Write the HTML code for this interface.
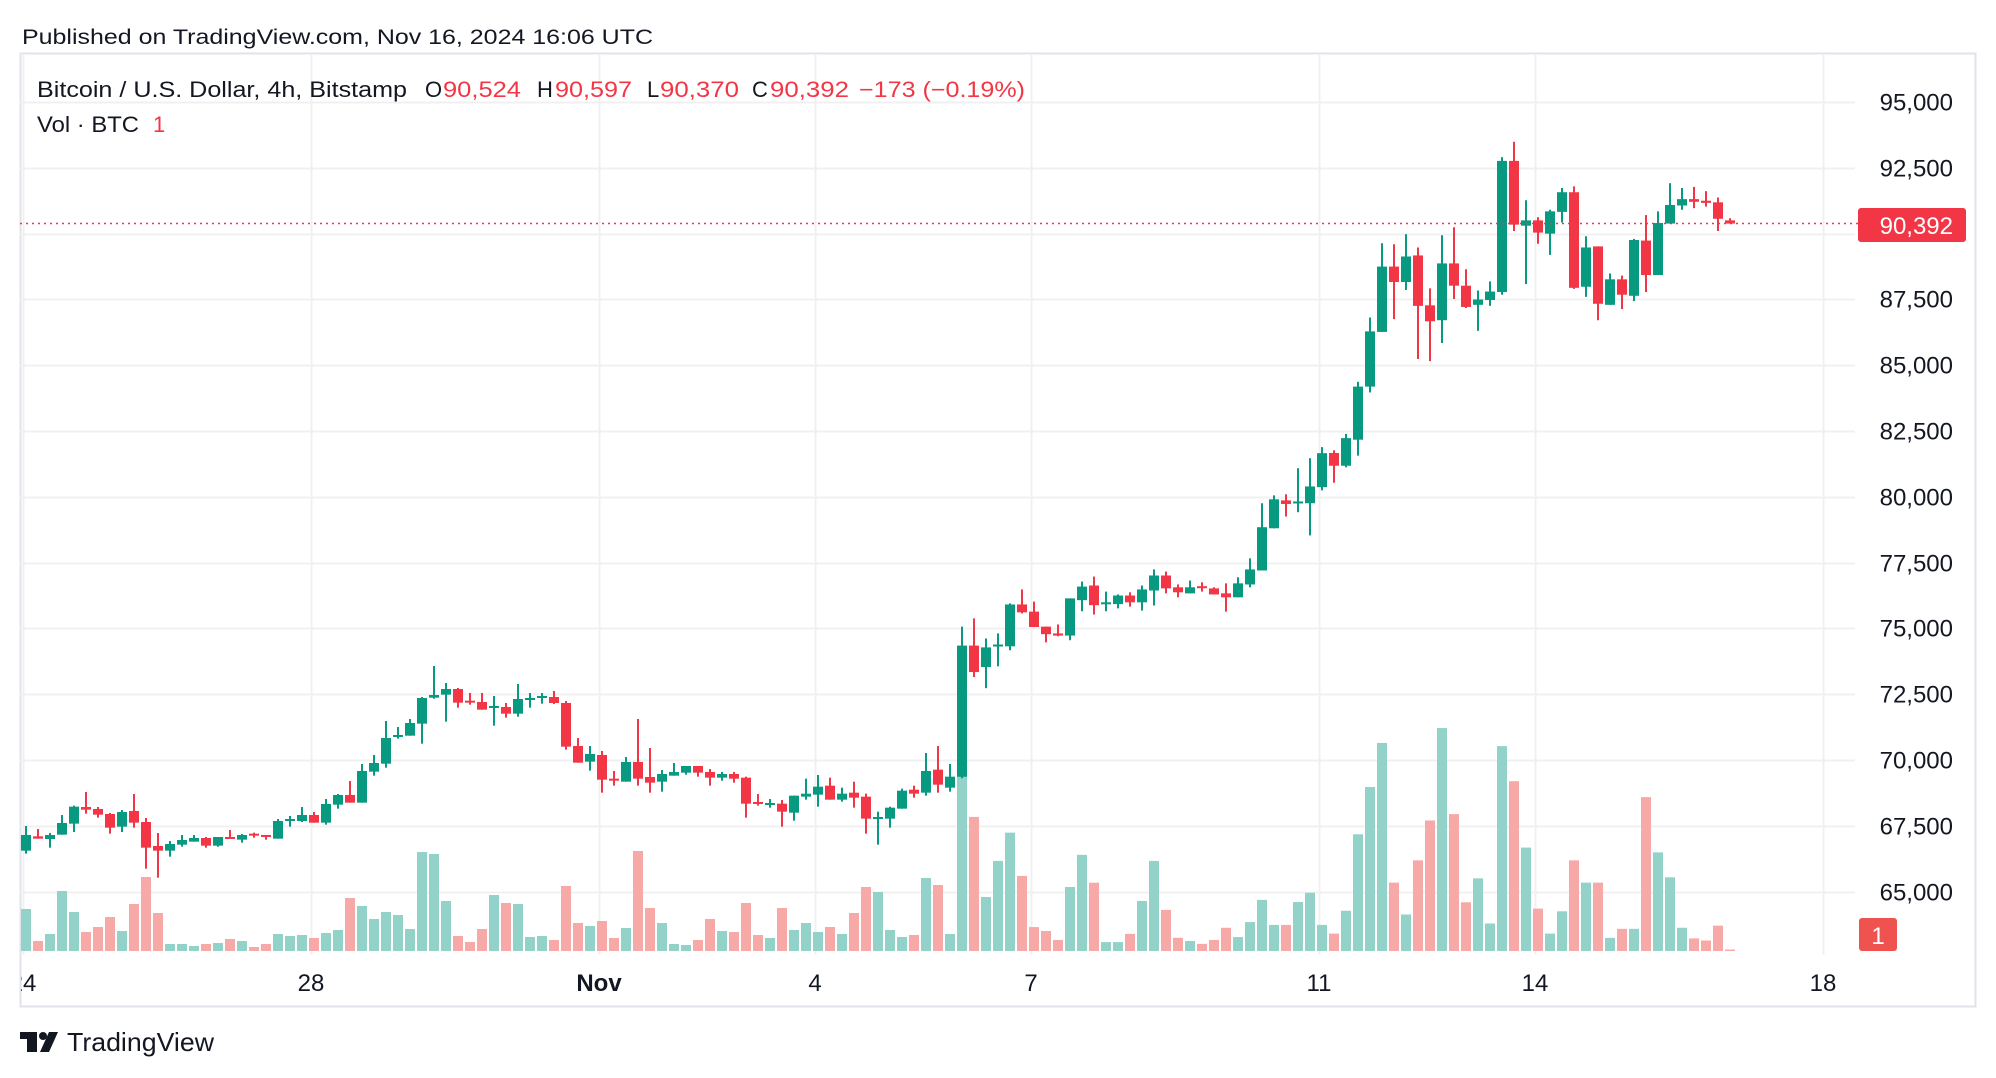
<!DOCTYPE html>
<html><head><meta charset="utf-8">
<style>
html,body{margin:0;padding:0;background:#fff;}
svg{display:block;}
text{font-family:"Liberation Sans",sans-serif;}
</style></head>
<body>
<svg id="s" width="1996" height="1078" viewBox="0 0 1996 1078" xmlns="http://www.w3.org/2000/svg">
<defs><clipPath id="cp"><rect x="21" y="0" width="1960" height="1078"/></clipPath></defs>
<rect x="0" y="0" width="1996" height="1078" fill="#fff"/>
<text x="22" y="44" font-size="21" fill="#131722" textLength="631" lengthAdjust="spacingAndGlyphs">Published on TradingView.com, Nov 16, 2024 16:06 UTC</text>
<rect x="20.5" y="53.5" width="1955" height="953" fill="none" stroke="#e0e3eb" stroke-width="2"/>
<g id="grid"></g>
<g id="vol"></g>
<g id="candles"></g>
<line x1="20" y1="223.5" x2="1858" y2="223.5" stroke="#f23645" stroke-width="1.5" stroke-dasharray="2,4"/>
<g id="axis" font-size="24" fill="#131722" clip-path="url(#cp)"></g>
<rect x="1858" y="208" width="108" height="34" rx="3" fill="#f23645"/>
<text x="1953" y="234" font-size="24" fill="#fff" text-anchor="end">90,392</text>
<rect x="1859" y="918" width="38" height="33" rx="3" fill="#ef5350"/>
<text x="1878" y="944" font-size="24" fill="#fff" text-anchor="middle">1</text>
<g font-size="22">
<text x="37" y="97" fill="#131722" textLength="370" lengthAdjust="spacingAndGlyphs">Bitcoin / U.S. Dollar, 4h, Bitstamp</text>
<text x="425" y="97" fill="#131722">O</text>
<text x="443" y="97" fill="#f23645" textLength="78" lengthAdjust="spacingAndGlyphs">90,524</text>
<text x="537" y="97" fill="#131722">H</text>
<text x="555" y="97" fill="#f23645" textLength="77" lengthAdjust="spacingAndGlyphs">90,597</text>
<text x="647" y="97" fill="#131722">L</text>
<text x="660" y="97" fill="#f23645" textLength="79" lengthAdjust="spacingAndGlyphs">90,370</text>
<text x="752" y="97" fill="#131722">C</text>
<text x="770" y="97" fill="#f23645" textLength="79" lengthAdjust="spacingAndGlyphs">90,392</text>
<text x="859" y="97" fill="#f23645" textLength="166" lengthAdjust="spacingAndGlyphs">−173 (−0.19%)</text>
<text x="37" y="132" fill="#131722" textLength="102" lengthAdjust="spacingAndGlyphs">Vol · BTC</text>
<text x="153" y="132" fill="#f23645">1</text>
</g>
<g fill="#131722">
<rect x="20" y="1032" width="17" height="7"/>
<rect x="27" y="1032" width="10" height="20"/>
<circle cx="43" cy="1036" r="4"/>
<polygon points="49,1032 58,1032 49,1052 40,1052"/>
</g>
<text x="67" y="1051" font-size="26" fill="#131722" textLength="147" lengthAdjust="spacingAndGlyphs">TradingView</text>
<script>
(function(){
var NS="http://www.w3.org/2000/svg";
function el(p,t,a){var e=document.createElementNS(NS,t);for(var k in a)e.setAttribute(k,a[k]);p.appendChild(e);return e;}
var grid=document.getElementById('grid'),vol=document.getElementById('vol'),cg=document.getElementById('candles'),ax=document.getElementById('axis');
function py(p){return 760-(p-70000)*0.02632;}
for(var p=65000;p<=95000;p+=2500){var y=Math.round(py(p))+0.5;
 el(grid,'line',{x1:20,y1:y,x2:1855,y2:y,stroke:'#f0f0f0','stroke-width':2});
 if(p!==90000){var t=el(ax,'text',{x:1953,y:y+8,'text-anchor':'end'});t.textContent=Math.floor(p/1000)+','+(p%1000===0?'000':'500');}
}
var dates=[[23,'24'],[311,'28'],[599,'Nov'],[815,'4'],[1031,'7'],[1319,'11'],[1535,'14'],[1823,'18']];
dates.forEach(function(d){
 el(grid,'line',{x1:d[0]+0.5,y1:55,x2:d[0]+0.5,y2:955,stroke:'#f0f0f0','stroke-width':2});
 var t=el(ax,'text',{x:d[0],y:991,'text-anchor':'middle'});if(d[1]==='Nov')t.setAttribute('font-weight','bold');t.textContent=d[1];
});
var A=[['G',585,632,558,641,807],['R',589,596,567,596,903],['G',585,597,579,623,882],['G',549,584,525,584,753],['G',500,551,497,576,816],['R',501,509,456,521,876],['R',507,524,501,533,861],['R',522,563,519,581,831],['G',516,560,510,576,873],['R',513,548,462,563,792],['R',546,623,534,686,711],['R',618,632,579,713,819],['G',612,632,603,650,912],['G',600,614,585,620,912],['G',594,605,585,605,918],['R',594,617,591,623,912],['G',591,617,591,620,909],['R',591,596,570,596,897],['G',585,599,582,608,903],['R',581,586,578,593,921],['R',585,589,585,599,912],['G',543,596,537,596,882],['G',537,541,528,560,888],['G',525,543,501,546,885],['R',525,548,516,548,894],['G',492,548,477,554,879],['G',465,494,462,506,870],['R',465,488,423,488,774],['G',393,488,372,488,798],['G',369,395,345,407,837],['G',294,371,243,383,816],['G',285,290,261,296,825],['G',249,287,237,287,867],['G',174,251,171,311,636],['G',165,173,78,176,642],['G',147,164,129,245,783],['R',147,188,144,203,888],['R',182,188,159,194,906],['R',186,209,159,209,867],['G',198,203,168,257,765],
['R',201,221,189,233,789],['G',177,221,132,230,792],['G',174,179,159,203,891],['G',168,173,159,191,888],['R',171,189,153,192,900],['R',189,320,183,329,738],['R',318,368,294,368,849],['G',342,365,318,392,858],['R',345,419,333,458,843],['R',416,421,393,437,894],['G',366,425,351,425,864],['R',366,416,237,437,633],['R',411,428,324,458,804],['G',402,425,390,455,849],['G',396,407,369,407,912],['G',378,398,378,404,915],['R',378,398,378,410,900],['R',396,413,387,437,837],['G',402,413,396,422,873],['R',402,416,396,428,876],['R',413,491,410,533,789],['R',486,491,462,497,885],['G',489,494,477,503,894],['R',491,515,480,560,804],['G',467,518,467,542,870],['G',461,470,416,479,849],['G',440,464,405,500,876],['R',437,479,413,479,861],['G',461,479,443,485,882],['R',458,473,425,503,819],['R',470,536,461,581,741],['G',531,536,515,614,756],['G',503,536,500,563,870],['G',452,506,446,506,891],['R',449,461,437,473,885],['G',393,458,339,467,714],['R',389,434,318,458,735],['G',410,443,372,455,882]];
var C=[['G',689,1056,636,1060,1056],['R',689,763,613,777,1168],['G',694,749,669,808,1392],['G',686,691,655,747,1291],['G',574,691,571,702,1212],['R',574,596,532,599,1333],['R',594,637,566,637,1476],['R',636,657,636,680,1487],['R',655,661,630,663,1512],['G',557,661,557,674,1364],['G',524,562,510,593,1274],['R',521,576,496,602,1352],['G',568,573,538,593,1518],['G',549,573,546,585,1518],['R',549,568,540,580,1495],['G',532,568,521,591,1403],['G',493,535,476,577,1291],['R',493,529,482,543,1428],['R',526,540,518,554,1506],['G',526,543,507,543,1515],['R',523,528,512,538,1523],['R',529,546,526,546,1512],['R',543,554,515,594,1478],['G',515,554,498,554,1504],['G',476,518,445,526,1462],['G',358,479,291,479,1400],['G',280,361,269,361,1470],['R',283,293,266,328,1470],['G',286,290,193,316,1406],['G',244,291,165,381,1380],['G',151,246,134,255,1470]];
var D=[['R',612,636,607,668,1517],['G',584,636,576,639,1474],['G',487,587,478,617,1330],['G',383,487,357,498,1241],['G',261,384,217,384,1158],['R',261,290,219,360,1421],['G',242,290,200,305,1481],['R',240,335,225,435,1379],['R',334,364,302,439,1304],['G',255,362,202,405,1130],['R',255,297,187,322,1292],['R',297,337,266,339,1458],['G',323,333,306,382,1413],['G',308,324,289,335,1498],['G',62,309,55,314,1164],['R',62,182,26,194,1230],['G',174,184,136,294,1355],['R',174,197,168,218,1470],['G',157,199,154,239,1517],['G',121,158,113,178,1475],['R',121,301,110,303,1379],['G',225,299,204,318,1421],['R',223,331,223,362,1421],['G',285,333,274,333,1525],['R',285,314,278,341,1508],['G',211,316,209,326,1508],['R',212,277,164,309,1260],['G',179,277,157,277,1364],['G',145,180,104,180,1411],['G',134,146,113,154,1506],['R',134,139,111,151,1526],['R',137,141,119,148,1530],['R',140,171,131,194,1502],['R',174,180,170,180,1547]];
var fA=function(z){return 640+z/3;},fC=function(z){return 431+(z-89)/2.796;},fD=function(z){return 167.8+(z-75)/1.883;};
var all=[];A.forEach(function(c){all.push([c,fA]);});C.forEach(function(c){all.push([c,fC]);});D.forEach(function(c){all.push([c,fD]);});
var VB=951;
all.forEach(function(it,i){
 var c=it[0],f=it[1],x=26+12*i,g=c[0]==='G';
 var col=g?'#089981':'#f23645',vc=g?'#92d2c9':'#f7a9a7';
 var vt=Math.min(f(c[5]),VB-1);
 var x0=Math.max(x-5,21);
 el(vol,'rect',{x:x0,y:vt,width:x+5-x0,height:VB-vt,fill:vc});
 var bt=f(c[1]),bb=f(c[2]),wt=f(c[3]),wb=f(c[4]);
 if(bb-bt<2){bb=bt+2;}
 el(cg,'rect',{x:Math.max(x-1,21),y:wt,width:2,height:wb-wt,fill:col});
 el(cg,'rect',{x:x0,y:bt,width:x+5-x0,height:bb-bt,fill:col});
});
})();
</script>
</svg>
</body></html>
